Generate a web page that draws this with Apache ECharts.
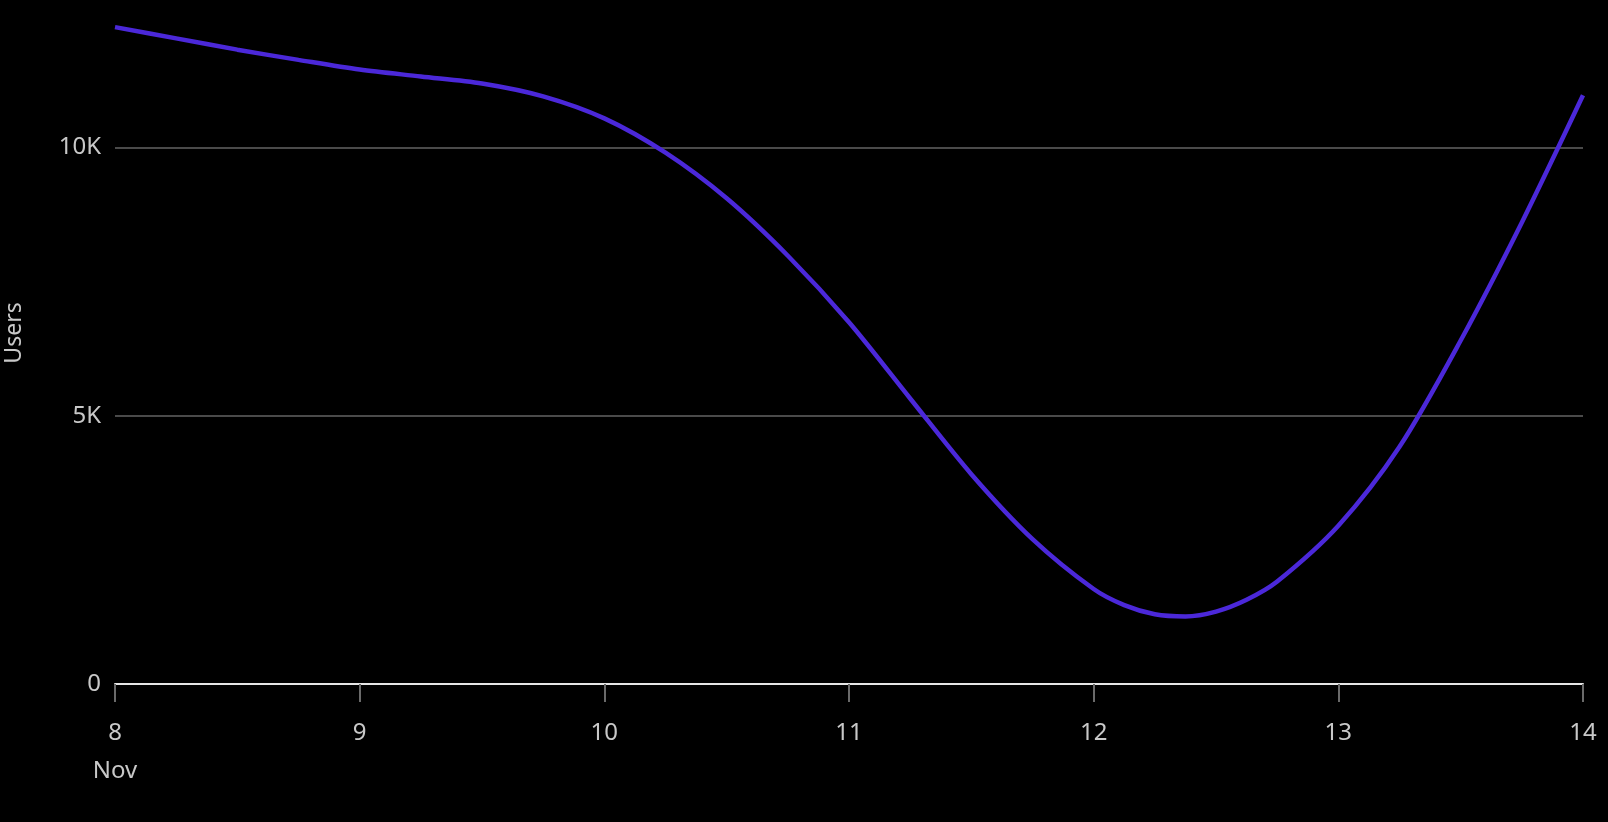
<!DOCTYPE html>
<html>
<head>
<meta charset="utf-8">
<script src="https://cdn.jsdelivr.net/npm/echarts@6/dist/echarts.min.js"></script>
<style>
  html, body { margin: 0; padding: 0; background: #000; }
  #chart { width: 1608px; height: 822px; }
</style>
</head>
<body>
<div id="chart"></div>
<script>
// days in November, and users (finer steps around the dip)
var days  = [8, 8.25, 8.5, 8.75, 9, 9.25, 9.5, 9.75, 10, 10.25, 10.5, 10.75, 11,
             11.25, 11.5, 11.75, 12, 12.125, 12.25, 12.375, 12.5, 12.625, 12.75, 13, 13.25, 13.5, 13.75, 14];
var users = [12240, 12030, 11820, 11630, 11450, 11320, 11190, 10950, 10540, 9900, 9050, 7980, 6740,
             5320, 3910, 2700, 1770, 1470, 1300, 1260, 1350, 1570, 1910, 2950, 4420, 6400, 8600, 10970];
var monthName = 'Nov';
var yTitle = 'Users';

var points = days.map(function (d, i) { return [d, users[i]]; });

var dom = document.getElementById('chart');
var myChart = echarts.init(dom);

var labelColor = '#c8c8c8';
var font = '"Noto Sans", sans-serif';

var option = {
    backgroundColor: '#000',
    animation: false,
    // 15K sits above the page so only 0 / 5K / 10K show
    grid: { left: 115, right: 25, top: -121, bottom: 138, outerBoundsMode: 'none', containLabel: false },
    graphic: [{
        type: 'text',
        x: 14,
        y: 333,
        rotation: Math.PI / 2,
        style: {
            text: yTitle,
            fill: labelColor,
            font: '23px "Noto Sans", sans-serif',
            align: 'center',
            verticalAlign: 'middle'
        }
    }],
    xAxis: {
        type: 'value',
        min: 8,
        max: 14,
        interval: 1,
        axisLine: { show: true, lineStyle: { color: '#e6e6e6', width: 2 } },
        axisTick: { show: true, length: 18, lineStyle: { color: '#6a6a6a', width: 2 } },
        splitLine: { show: false },
        axisLabel: {
            margin: 30,
            color: labelColor,
            fontFamily: font,
            fontSize: 24,
            lineHeight: 38,
            formatter: function (v) {
                return v === 8 ? v + '\n' + monthName : String(v);
            }
        }
    },
    yAxis: {
        type: 'value',
        min: 0,
        max: 15000,
        interval: 5000,
        axisLine: { show: false },
        axisTick: { show: false },
        splitLine: { lineStyle: { color: '#4a4a4a', width: 2 } },
        axisLabel: {
            margin: 14,
            color: labelColor,
            fontFamily: font,
            fontSize: 24,
            formatter: function (v) { return v === 0 ? '0' : (v / 1000) + 'K'; }
        }
    },
    series: [{
        type: 'line',
        data: points,
        smooth: 0.3,
        showSymbol: false,
        lineStyle: { color: '#4b28d9', width: 4.5 }
    }]
};

myChart.setOption(option);
</script>
</body>
</html>
